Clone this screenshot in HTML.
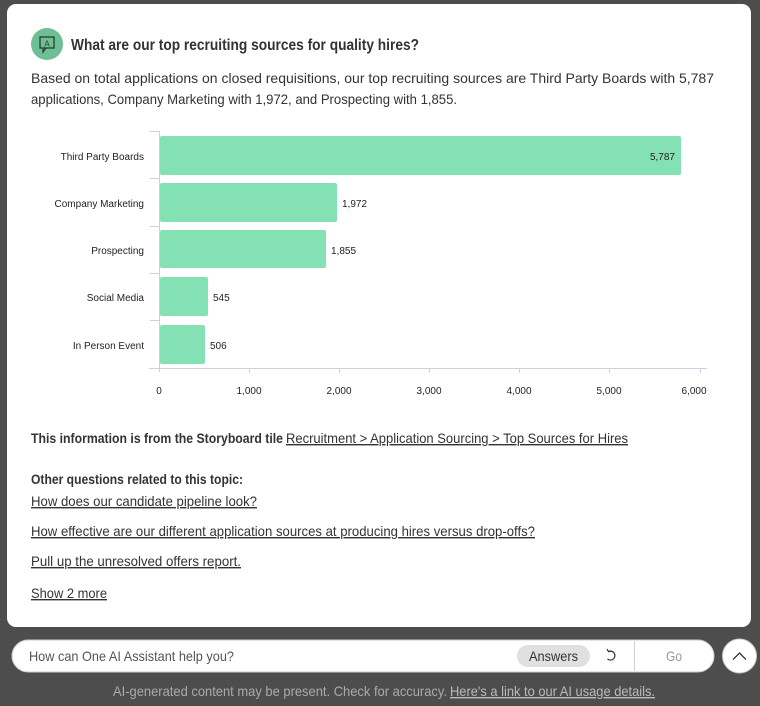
<!DOCTYPE html>
<html><head><meta charset="utf-8"><style>
html,body{margin:0;padding:0;background:#4d4d4d;width:760px;height:706px;overflow:hidden}
svg{display:block}
text{font-family:"Liberation Sans",sans-serif}
</style></head><body>
<svg width="760" height="706" viewBox="0 0 760 706" xmlns="http://www.w3.org/2000/svg">
<rect x="0" y="0" width="760" height="706" fill="#4d4d4d"/>
<rect x="7" y="4" width="744" height="623" rx="9" fill="#ffffff"/>
<!-- icon -->
<circle cx="47" cy="44" r="16" fill="#6dbf94"/>
<rect x="40" y="37" width="14" height="11" fill="none" stroke="#2d3a33" stroke-width="1.3"/>
<path d="M43 48 L43 52 L46 48" fill="none" stroke="#2d3a33" stroke-width="1.3"/>
<text x="47" y="46.5" font-size="8" text-anchor="middle" fill="#2d3a33">A</text>
<text x="71" y="50" font-size="16" font-weight="bold" fill="#333" textLength="348" lengthAdjust="spacingAndGlyphs">What are our top recruiting sources for quality hires?</text>
<text x="31" y="83" font-size="14" fill="#333" textLength="683" lengthAdjust="spacingAndGlyphs">Based on total applications on closed requisitions, our top recruiting sources are Third Party Boards with 5,787</text>
<text x="31" y="104" font-size="14" fill="#333" textLength="426" lengthAdjust="spacingAndGlyphs">applications, Company Marketing with 1,972, and Prospecting with 1,855.</text>
<!-- chart -->
<g stroke="#c9d2e3" stroke-width="1">
<line x1="159.5" y1="131" x2="159.5" y2="372"/>
<line x1="150" y1="131.5" x2="159" y2="131.5"/>
<line x1="150" y1="178.5" x2="159" y2="178.5"/>
<line x1="150" y1="226.5" x2="159" y2="226.5"/>
<line x1="150" y1="273.5" x2="159" y2="273.5"/>
<line x1="150" y1="320.5" x2="159" y2="320.5"/>
<line x1="149" y1="368.5" x2="707" y2="368.5"/>
<line x1="249.5" y1="368" x2="249.5" y2="373"/>
<line x1="339.5" y1="368" x2="339.5" y2="373"/>
<line x1="429.5" y1="368" x2="429.5" y2="373"/>
<line x1="519.5" y1="368" x2="519.5" y2="373"/>
<line x1="609.5" y1="368" x2="609.5" y2="373"/>
<line x1="700.5" y1="368" x2="700.5" y2="373"/>
</g>
<g fill="#84e1b3">
<rect x="160" y="136" width="521" height="39" rx="2"/>
<rect x="160" y="183" width="177" height="39" rx="2"/>
<rect x="160" y="230" width="166" height="38" rx="2"/>
<rect x="160" y="277" width="48" height="39" rx="2"/>
<rect x="160" y="325" width="45" height="39" rx="2"/>
</g>
<g font-size="10" fill="#222" text-anchor="end">
<text x="144" y="160">Third Party Boards</text>
<text x="144" y="207">Company Marketing</text>
<text x="144" y="254">Prospecting</text>
<text x="144" y="301">Social Media</text>
<text x="144" y="349">In Person Event</text>
<text x="675" y="160">5,787</text>
</g>
<g font-size="10" fill="#222">
<text x="342" y="207">1,972</text>
<text x="331" y="254">1,855</text>
<text x="213" y="301">545</text>
<text x="210" y="349">506</text>
</g>
<g font-size="10" fill="#222" text-anchor="middle">
<text x="159" y="394">0</text>
<text x="249" y="394">1,000</text>
<text x="339" y="394">2,000</text>
<text x="429" y="394">3,000</text>
<text x="519" y="394">4,000</text>
<text x="609" y="394">5,000</text>
<text x="694" y="394">6,000</text>
</g>
<!-- footer text -->
<text x="31" y="443" font-size="14" font-weight="bold" fill="#333" textLength="252" lengthAdjust="spacingAndGlyphs">This information is from the Storyboard tile</text>
<text x="286" y="443" font-size="14" fill="#333" text-decoration="underline" textLength="342" lengthAdjust="spacingAndGlyphs">Recruitment &gt; Application Sourcing &gt; Top Sources for Hires</text>
<text x="31" y="484" font-size="14" font-weight="bold" fill="#333" textLength="212" lengthAdjust="spacingAndGlyphs">Other questions related to this topic:</text>
<text x="31" y="506" font-size="14" fill="#333" text-decoration="underline" textLength="226" lengthAdjust="spacingAndGlyphs">How does our candidate pipeline look?</text>
<text x="31" y="536" font-size="14" fill="#333" text-decoration="underline" textLength="504" lengthAdjust="spacingAndGlyphs">How effective are our different application sources at producing hires versus drop-offs?</text>
<text x="31" y="566" font-size="14" fill="#333" text-decoration="underline" textLength="210" lengthAdjust="spacingAndGlyphs">Pull up the unresolved offers report.</text>
<text x="31" y="598" font-size="14" fill="#333" text-decoration="underline" textLength="76" lengthAdjust="spacingAndGlyphs">Show 2 more</text>
<!-- input bar -->
<rect x="12" y="640" width="702" height="32" rx="16" fill="#ffffff" stroke="#cccccc"/>
<text x="29" y="661" font-size="14" fill="#555" textLength="205" lengthAdjust="spacingAndGlyphs">How can One AI Assistant help you?</text>
<rect x="517" y="645" width="73" height="22" rx="11" fill="#e0e0e0"/>
<text x="529" y="661" font-size="14" fill="#333" textLength="49" lengthAdjust="spacingAndGlyphs">Answers</text>
<path d="M608.5 651.5 A4.5 4.5 0 1 1 607.5 659" fill="none" stroke="#333" stroke-width="1.2"/>
<path d="M607 649 L608.5 651.7 L611.5 651" fill="none" stroke="#333" stroke-width="1.2"/>
<line x1="634.5" y1="641" x2="634.5" y2="671" stroke="#d0d0d0"/>
<text x="666" y="661" font-size="14" fill="#999" textLength="16" lengthAdjust="spacingAndGlyphs">Go</text>
<circle cx="739.5" cy="656" r="17" fill="#ffffff" stroke="#cccccc"/>
<path d="M733 659.5 L739.5 653 L746 659.5" fill="none" stroke="#333" stroke-width="1.3"/>
<text x="113" y="696" font-size="14" fill="#aaaaaa" textLength="334" lengthAdjust="spacingAndGlyphs">AI-generated content may be present. Check for accuracy.</text>
<text x="450" y="696" font-size="14" fill="#bbbbbb" text-decoration="underline" textLength="205" lengthAdjust="spacingAndGlyphs">Here's a link to our AI usage details.</text>
</svg>
</body></html>
